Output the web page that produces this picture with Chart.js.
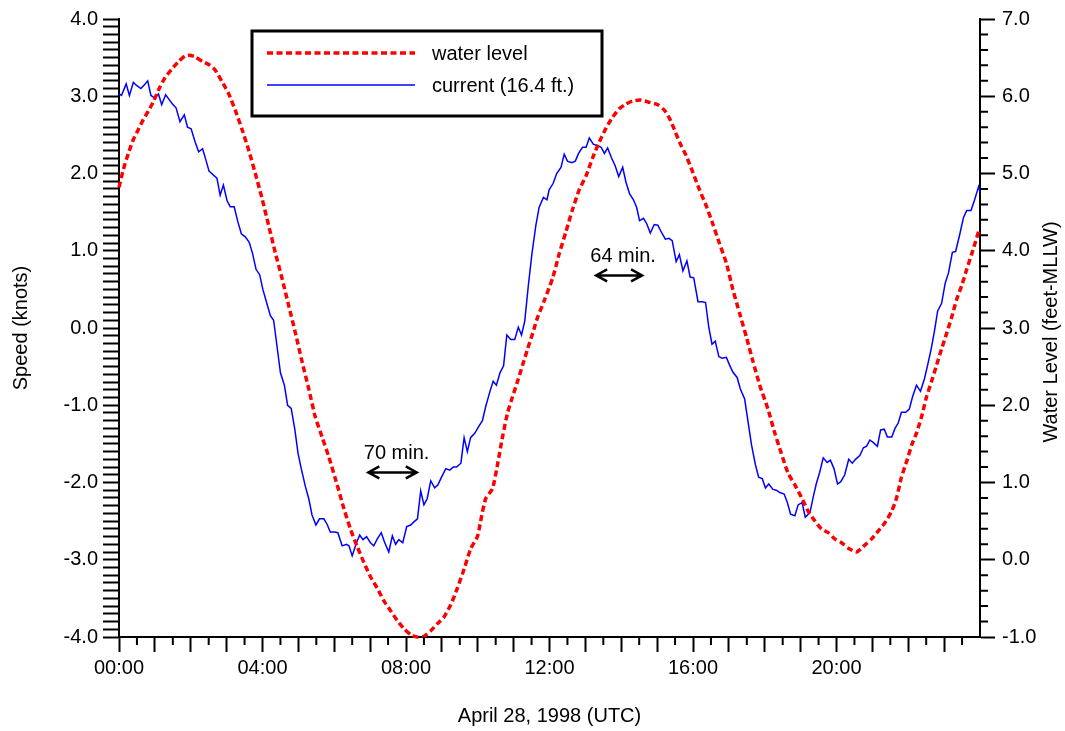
<!DOCTYPE html>
<html>
<head>
<meta charset="UTF-8">
<title>Current and Water Level</title>
<script src="https://cdn.jsdelivr.net/npm/chart.js"></script>
<style>
  body { margin: 0; background: #fff; }
  #wrap { width: 1065px; height: 731px; }
</style>
</head>
<body>
<div id="wrap"><canvas id="tideChart"></canvas></div>
<script>
// water level, feet above MLLW
var levelHours = [0.00, 0.12, 0.26, 0.40, 0.54, 0.68, 0.82, 0.96, 1.10, 1.28, 1.47, 1.66, 1.84, 1.96, 2.12, 2.33, 2.54, 2.68, 2.87, 3.06,
  3.24, 3.43, 3.61, 3.80, 3.98, 4.17, 4.36, 4.54, 4.73, 4.92, 5.10, 5.29, 5.47, 5.66, 5.85, 6.08, 6.27, 6.45, 6.64, 6.83,
  7.01, 7.20, 7.38, 7.57, 7.76, 7.94, 8.13, 8.31, 8.50, 8.69, 8.87, 9.06, 9.25, 9.43, 9.62, 9.80, 9.99, 10.08, 10.22, 10.41,
  10.55, 10.69, 10.83, 10.97, 11.11, 11.25, 11.39, 11.53, 11.67, 11.85, 12.09, 12.27, 12.46, 12.64, 12.83, 13.02, 13.20, 13.39, 13.58, 13.76,
  13.95, 14.13, 14.32, 14.55, 14.79, 15.02, 15.20, 15.34, 15.48, 15.62, 15.81, 15.99, 16.18, 16.37, 16.55, 16.74, 16.93, 17.11, 17.30, 17.49,
  17.67, 17.86, 18.09, 18.28, 18.46, 18.65, 18.84, 19.02, 19.21, 19.40, 19.58, 19.77, 19.95, 20.14, 20.33, 20.56, 20.79, 20.98, 21.16, 21.35,
  21.54, 21.68, 21.81, 21.96, 22.10, 22.23, 22.37, 22.51, 22.65, 22.79, 22.93, 23.07, 23.21, 23.35, 23.49, 23.63, 23.77, 23.91, 23.98];
var levelFeet = [4.82, 5.05, 5.26, 5.44, 5.57, 5.70, 5.81, 5.93, 6.08, 6.24, 6.35, 6.45, 6.52, 6.53, 6.51, 6.45, 6.40, 6.34, 6.19, 6.03,
  5.82, 5.57, 5.31, 5.00, 4.69, 4.33, 3.97, 3.65, 3.29, 2.93, 2.57, 2.21, 1.85, 1.59, 1.33, 0.97, 0.66, 0.40, 0.17, -0.04,
  -0.22, -0.37, -0.53, -0.66, -0.79, -0.89, -0.97, -1.00, -0.99, -0.92, -0.83, -0.74, -0.58, -0.37, -0.12, 0.14, 0.30, 0.50, 0.79, 0.92,
  1.23, 1.59, 1.90, 2.11, 2.31, 2.52, 2.73, 2.93, 3.14, 3.35, 3.65, 3.96, 4.25, 4.53, 4.79, 4.97, 5.20, 5.41, 5.59, 5.73,
  5.84, 5.90, 5.94, 5.95, 5.92, 5.89, 5.82, 5.72, 5.57, 5.41, 5.23, 5.02, 4.79, 4.58, 4.35, 4.09, 3.84, 3.50, 3.19, 2.88,
  2.57, 2.26, 1.95, 1.64, 1.38, 1.12, 0.97, 0.81, 0.63, 0.50, 0.40, 0.35, 0.27, 0.22, 0.15, 0.10, 0.19, 0.27, 0.37, 0.48,
  0.63, 0.81, 1.07, 1.28, 1.49, 1.64, 1.85, 2.11, 2.31, 2.52, 2.73, 2.93, 3.14, 3.37, 3.55, 3.76, 3.96, 4.17, 4.28];

// current speed at 16.4 ft, knots
var currentHours = [0.00, 0.07, 0.20, 0.29, 0.40, 0.49, 0.61, 0.71, 0.80, 0.89, 0.99, 1.10, 1.19, 1.30, 1.41, 1.49, 1.59, 1.70, 1.82, 1.91,
  2.01, 2.12, 2.22, 2.33, 2.42, 2.51, 2.63, 2.73, 2.82, 2.91, 3.01, 3.10, 3.21, 3.31, 3.41, 3.52, 3.63, 3.72, 3.82, 3.92,
  4.01, 4.12, 4.22, 4.31, 4.40, 4.50, 4.61, 4.70, 4.80, 4.90, 4.99, 5.08, 5.20, 5.29, 5.38, 5.49, 5.59, 5.71, 5.80, 5.89,
  6.01, 6.10, 6.22, 6.34, 6.41, 6.50, 6.62, 6.71, 6.80, 6.90, 7.01, 7.10, 7.20, 7.31, 7.40, 7.52, 7.62, 7.71, 7.80, 7.91,
  8.02, 8.13, 8.22, 8.32, 8.41, 8.50, 8.59, 8.69, 8.80, 8.89, 8.99, 9.11, 9.22, 9.32, 9.41, 9.53, 9.62, 9.71, 9.80, 9.92,
  10.02, 10.13, 10.22, 10.34, 10.43, 10.52, 10.62, 10.72, 10.81, 10.92, 11.03, 11.13, 11.22, 11.31, 11.41, 11.51, 11.62, 11.71, 11.83, 11.93,
  11.99, 12.10, 12.20, 12.32, 12.41, 12.50, 12.62, 12.72, 12.81, 12.92, 13.02, 13.11, 13.22, 13.34, 13.44, 13.53, 13.62, 13.73, 13.83, 13.93,
  14.04, 14.13, 14.23, 14.34, 14.43, 14.51, 14.62, 14.71, 14.81, 14.92, 15.02, 15.13, 15.23, 15.33, 15.42, 15.53, 15.62, 15.72, 15.83, 15.92,
  16.02, 16.14, 16.26, 16.35, 16.44, 16.53, 16.62, 16.72, 16.81, 16.93, 17.02, 17.11, 17.23, 17.32, 17.44, 17.53, 17.63, 17.74, 17.83, 17.93,
  18.02, 18.11, 18.23, 18.32, 18.42, 18.54, 18.63, 18.72, 18.84, 18.93, 19.04, 19.13, 19.26, 19.35, 19.44, 19.53, 19.63, 19.74, 19.83, 19.93,
  20.03, 20.12, 20.23, 20.34, 20.44, 20.53, 20.65, 20.75, 20.84, 20.93, 21.02, 21.14, 21.23, 21.33, 21.42, 21.54, 21.63, 21.72, 21.81, 21.93,
  22.03, 22.12, 22.23, 22.34, 22.45, 22.54, 22.64, 22.73, 22.82, 22.93, 23.03, 23.12, 23.23, 23.32, 23.43, 23.54, 23.63, 23.75, 23.85, 23.96, 24.00];
var currentKnots = [3.03, 3.01, 3.16, 3.01, 3.18, 3.14, 3.10, 3.15, 3.20, 3.01, 2.98, 3.03, 2.89, 3.02, 2.95, 2.90, 2.85, 2.67, 2.76, 2.60,
  2.58, 2.41, 2.28, 2.32, 2.18, 2.03, 1.98, 1.94, 1.72, 1.85, 1.65, 1.57, 1.57, 1.38, 1.22, 1.18, 1.11, 0.97, 0.76, 0.69,
  0.50, 0.32, 0.16, 0.10, -0.22, -0.58, -0.74, -1.00, -1.04, -1.31, -1.62, -1.82, -2.06, -2.21, -2.42, -2.55, -2.47, -2.47, -2.54, -2.64,
  -2.64, -2.65, -2.82, -2.80, -2.82, -2.95, -2.78, -2.68, -2.74, -2.70, -2.78, -2.82, -2.73, -2.65, -2.77, -2.90, -2.69, -2.80, -2.74, -2.78,
  -2.57, -2.55, -2.51, -2.47, -2.11, -2.29, -2.21, -1.98, -2.07, -2.03, -1.93, -1.82, -1.84, -1.80, -1.80, -1.75, -1.42, -1.60, -1.42, -1.36,
  -1.28, -1.20, -1.02, -0.82, -0.69, -0.74, -0.58, -0.49, -0.09, -0.15, -0.15, 0.01, -0.09, 0.09, 0.55, 0.96, 1.33, 1.56, 1.69, 1.66,
  1.79, 1.87, 2.00, 2.08, 2.25, 2.16, 2.14, 2.16, 2.26, 2.34, 2.34, 2.46, 2.38, 2.36, 2.34, 2.26, 2.33, 2.20, 2.10, 1.96,
  2.08, 1.89, 1.74, 1.66, 1.56, 1.39, 1.42, 1.35, 1.23, 1.34, 1.33, 1.23, 1.15, 1.16, 1.13, 0.86, 0.95, 0.74, 0.87, 0.66,
  0.65, 0.34, 0.34, 0.33, 0.01, -0.21, -0.17, -0.37, -0.39, -0.38, -0.48, -0.57, -0.64, -0.79, -0.92, -1.20, -1.51, -1.77, -1.93, -1.95,
  -2.07, -2.02, -2.09, -2.10, -2.13, -2.15, -2.26, -2.41, -2.43, -2.29, -2.26, -2.45, -2.39, -2.19, -2.01, -1.87, -1.68, -1.74, -1.71, -1.82,
  -2.02, -1.99, -1.90, -1.70, -1.75, -1.70, -1.65, -1.55, -1.53, -1.45, -1.48, -1.53, -1.32, -1.31, -1.41, -1.41, -1.30, -1.23, -1.09, -1.09,
  -1.05, -0.89, -0.74, -0.82, -0.66, -0.48, -0.27, -0.04, 0.22, 0.32, 0.58, 0.71, 0.98, 0.99, 1.20, 1.43, 1.52, 1.52, 1.66, 1.83, 1.76];

var hourLabels = ['00:00', '04:00', '08:00', '12:00', '16:00', '20:00'];
var seriesNames = ['water level', 'current (16.4 ft.)'];
var levelAxisTitle = 'Water Level (feet-MLLW)';

// phase-lag notes between slack water and high/low water
var lagNotes = [
  { text: '70 min.', from: 6.95, to: 8.30, y: -1.87, labelY: -1.62 },
  { text: '64 min.', from: 13.30, to: 14.58, y: 0.68, labelY: 0.92 }
];

function pairs(xs, ys) {
  return xs.map(function (x, i) { return { x: x, y: ys[i] }; });
}

Chart.defaults.font.family = '"Liberation Sans", Arial, Helvetica, sans-serif';
Chart.defaults.font.size = 20;
Chart.defaults.color = '#000';

function isWhole(v) { return Math.abs(v - Math.round(v)) < 1e-6; }

// short half-hour ticks on the time axis and 0.2 ft ticks on the water-level axis
var minorTicks = {
  id: 'minorTicks',
  afterDraw: function (chart) {
    var ctx = chart.ctx, xs = chart.scales.x, yr = chart.scales.yR;
    ctx.save();
    ctx.strokeStyle = '#000';
    ctx.lineWidth = 2;
    ctx.beginPath();
    for (var h = 0.5; h < 24; h += 1) {
      var px = xs.getPixelForValue(h);
      ctx.moveTo(px, xs.top); ctx.lineTo(px, xs.top + 8);
    }
    for (var i = -5; i <= 35; i++) {
      if (i % 5 === 0) continue;
      var py = yr.getPixelForValue(i / 5);
      ctx.moveTo(yr.left, py); ctx.lineTo(yr.left + 8, py);
    }
    ctx.stroke();

    // right-hand axis title, reading upward like the left one
    ctx.fillStyle = '#000';
    ctx.font = '20px "Liberation Sans", Arial, sans-serif';
    ctx.textAlign = 'center';
    ctx.textBaseline = 'middle';
    ctx.translate(yr.right - 14, (yr.top + yr.bottom) / 2 + 4);
    ctx.rotate(-Math.PI / 2);
    ctx.fillText(levelAxisTitle, 0, 0);
    ctx.restore();
  }
};

// boxed legend inside the plot
var boxLegend = {
  id: 'boxLegend',
  afterDatasetsDraw: function (chart) {
    var ctx = chart.ctx, a = chart.chartArea;
    var left = a.left + 133, top = a.top + 12, w = 350, h = 85;
    ctx.save();
    ctx.fillStyle = '#fff';
    ctx.fillRect(left, top, w, h);
    ctx.strokeStyle = '#000';
    ctx.lineWidth = 3;
    ctx.strokeRect(left, top, w, h);
    ctx.font = '20px "Liberation Sans", Arial, sans-serif';
    ctx.textBaseline = 'middle';
    ctx.fillStyle = '#000';
    chart.data.datasets.forEach(function (ds, i) {
      var y = top + 22 + i * 32;
      ctx.save();
      ctx.strokeStyle = ds.borderColor;
      ctx.lineWidth = ds.borderWidth;
      ctx.setLineDash(ds.borderDash || []);
      ctx.beginPath();
      ctx.moveTo(left + 15, y);
      ctx.lineTo(left + 163, y);
      ctx.stroke();
      ctx.restore();
      ctx.fillText(ds.label, left + 180, y + 1);
    });
    ctx.restore();
  }
};

// double-headed arrows with their time-lag labels
var lagArrows = {
  id: 'lagArrows',
  afterDatasetsDraw: function (chart) {
    var ctx = chart.ctx, xs = chart.scales.x, ys = chart.scales.y;
    ctx.save();
    ctx.strokeStyle = '#000';
    ctx.fillStyle = '#000';
    ctx.lineWidth = 2.5;
    ctx.font = '20px "Liberation Sans", Arial, sans-serif';
    ctx.textAlign = 'center';
    ctx.textBaseline = 'middle';
    lagNotes.forEach(function (n) {
      var x1 = xs.getPixelForValue(n.from), x2 = xs.getPixelForValue(n.to);
      var y = ys.getPixelForValue(n.y);
      ctx.beginPath();
      ctx.moveTo(x1, y); ctx.lineTo(x2, y);
      ctx.moveTo(x1 + 11, y - 6); ctx.lineTo(x1, y); ctx.lineTo(x1 + 11, y + 6);
      ctx.moveTo(x2 - 11, y - 6); ctx.lineTo(x2, y); ctx.lineTo(x2 - 11, y + 6);
      ctx.stroke();
      ctx.fillText(n.text, (x1 + x2) / 2 + 4, ys.getPixelForValue(n.labelY));
    });
    ctx.restore();
  }
};

var chart = new Chart(document.getElementById('tideChart'), {
  type: 'line',
  data: {
    datasets: [{
      label: seriesNames[0],
      data: pairs(levelHours, levelFeet),
      yAxisID: 'yR',
      borderColor: '#ff0000',
      borderWidth: 3.5,
      borderDash: [6, 3.5],
      pointRadius: 0,
      tension: 0.2,
      clip: false
    }, {
      label: seriesNames[1],
      data: pairs(currentHours, currentKnots),
      yAxisID: 'y',
      borderColor: '#0000ff',
      borderWidth: 1.5,
      pointRadius: 0,
      tension: 0,
      clip: false
    }]
  },
  options: {
    responsive: true,
    maintainAspectRatio: false,
    animation: false,
    layout: { padding: { top: 15, left: 0, right: 0, bottom: 0 } },
    plugins: { legend: { display: false }, tooltip: { enabled: false } },
    scales: {
      x: {
        type: 'linear',
        min: 0, max: 24,
        afterFit: function (s) { s.height = 94; },
        border: { display: true, color: '#000', width: 2 },
        grid: {
          drawOnChartArea: false, tickLength: 15, tickWidth: 2,
          tickColor: function (c) { return c.tick && c.tick.value >= 24 ? 'rgba(0,0,0,0)' : '#000'; }
        },
        ticks: {
          stepSize: 1, autoSkip: false, maxRotation: 0, padding: 4,
          callback: function (v) { return (v % 4 === 0 && v < 24) ? hourLabels[v / 4] : ''; }
        },
        title: { display: true, text: 'April 28, 1998 (UTC)', padding: { top: 0, bottom: 3 } }
      },
      y: {
        position: 'left',
        min: -4, max: 4,
        afterFit: function (s) { s.width = 119; },
        border: { display: true, color: '#000', width: 2 },
        grid: { drawOnChartArea: false, tickLength: 16, tickWidth: 2, tickColor: '#000' },
        ticks: {
          stepSize: 0.1, autoSkip: false, padding: 5,
          callback: function (v) { return isWhole(v) ? Math.round(v).toFixed(1) : ''; }
        },
        title: { display: true, text: 'Speed (knots)', padding: { top: 9, bottom: 0 } }
      },
      yR: {
        position: 'right',
        min: -1, max: 7,
        afterFit: function (s) { s.width = 85; },
        border: { display: true, color: '#000', width: 2 },
        grid: { drawOnChartArea: false, tickLength: 15, tickWidth: 2, tickColor: '#000' },
        ticks: {
          stepSize: 1, autoSkip: false, padding: 7,
          callback: function (v) { return v.toFixed(1); }
        }
      }
    }
  },
  plugins: [minorTicks, boxLegend, lagArrows]
});
</script>
</body>
</html>
